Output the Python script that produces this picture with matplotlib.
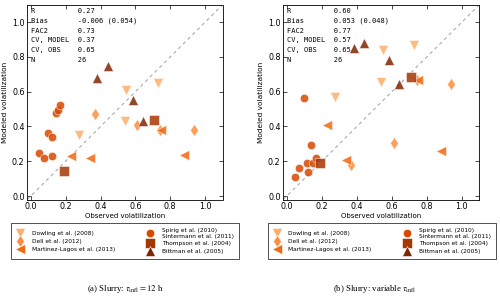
import matplotlib
matplotlib.use("Agg")
import matplotlib.pyplot as plt

studies = ["Dowling et al. (2008)", "Dell et al. (2012)", "Martinez-Lagos et al. (2013)",
           "Spirig et al. (2010)\nSintermann et al. (2011)", "Thompson et al. (2004)",
           "Bittman et al. (2005)"]
markers = ["v", "d", "<", "o", "s", "^"]
colors = ["#fdae6b", "#fd8d3c", "#f16913", "#d94801", "#a63603", "#7f2704"]

# Panel (a)
obs_a = {
    "Dowling et al. (2008)": [0.279, 0.547, 0.539, 0.728],
    "Dell et al. (2012)": [0.369, 0.608, 0.742, 0.939],
    "Martinez-Lagos et al. (2013)": [0.228, 0.340, 0.748, 0.878],
    "Spirig et al. (2010)\nSintermann et al. (2011)": [0.048, 0.073, 0.098, 0.120, 0.124, 0.145, 0.155, 0.170],
    "Thompson et al. (2004)": [0.191, 0.709],
    "Bittman et al. (2005)": [0.382, 0.442, 0.587, 0.642],
}
mod_a = {
    "Dowling et al. (2008)": [0.352, 0.607, 0.429, 0.648],
    "Dell et al. (2012)": [0.471, 0.410, 0.377, 0.379],
    "Martinez-Lagos et al. (2013)": [0.228, 0.218, 0.377, 0.238],
    "Spirig et al. (2010)\nSintermann et al. (2011)": [0.247, 0.220, 0.364, 0.228, 0.337, 0.479, 0.492, 0.523],
    "Thompson et al. (2004)": [0.144, 0.439],
    "Bittman et al. (2005)": [0.678, 0.747, 0.554, 0.431],
}
# Panel (b)
obs_b = {
    "Dowling et al. (2008)": [0.276, 0.537, 0.551, 0.727],
    "Dell et al. (2012)": [0.369, 0.610, 0.743, 0.940],
    "Martinez-Lagos et al. (2013)": [0.228, 0.340, 0.749, 0.883],
    "Spirig et al. (2010)\nSintermann et al. (2011)": [0.046, 0.071, 0.096, 0.115, 0.121, 0.140, 0.152, 0.167],
    "Thompson et al. (2004)": [0.188, 0.708],
    "Bittman et al. (2005)": [0.382, 0.440, 0.585, 0.639],
}
mod_b = {
    "Dowling et al. (2008)": [0.567, 0.655, 0.837, 0.868],
    "Dell et al. (2012)": [0.178, 0.305, 0.665, 0.642],
    "Martinez-Lagos et al. (2013)": [0.410, 0.205, 0.665, 0.261],
    "Spirig et al. (2010)\nSintermann et al. (2011)": [0.107, 0.163, 0.563, 0.190, 0.136, 0.291, 0.190, 0.218],
    "Thompson et al. (2004)": [0.190, 0.686],
    "Bittman et al. (2005)": [0.849, 0.879, 0.784, 0.646],
}

stats_labels = ["R", "Bias", "FAC2", "CV, MODEL", "CV, OBS", "N"]
stats_a = ["0.27", "-0.006 (0.054)", "0.73", "0.37", "0.65", "26"]
stats_b = ["0.60", "0.053 (0.048)", "0.77", "0.57", "0.65", "26"]

captions = [r"(a) Slurry: $\tau_{\mathrm{infl}} = 12$ h",
            r"(b) Slurry: variable $\tau_{\mathrm{infl}}$"]

plt.rcParams["mathtext.fontset"] = "stix"

fig = plt.figure(figsize=(5.0, 2.98), dpi=100)
axes_pos = [[0.0546, 0.3305, 0.3904, 0.6535], [0.5667, 0.3305, 0.3920, 0.6535]]
leg_box = [(0.022, 0.128, 0.456, 0.127), (0.535, 0.128, 0.456, 0.127)]
cap_x = [0.25, 0.75]

for i, (obs, mod, stats) in enumerate([(obs_a, mod_a, stats_a), (obs_b, mod_b, stats_b)]):
    ax = fig.add_axes(axes_pos[i])
    ax.plot([-0.02, 1.1], [-0.02, 1.1], ls=(0, (3, 3)), color="#aaaaaa", lw=0.8, zorder=1)
    handles = []
    for s, m, c in zip(studies, markers, colors):
        h, = ax.plot(obs[s], mod[s], ls="none", marker=m, color=c, markersize=6.5 if m != "o" else 6,
                     markeredgecolor="white", markeredgewidth=0.4, alpha=0.85, label=s, zorder=3)
        handles.append(h)
    ax.set_xlim(-0.02, 1.1)
    ax.set_ylim(-0.02, 1.1)
    ticks = [0.0, 0.2, 0.4, 0.6, 0.8, 1.0]
    ax.set_xticks(ticks)
    ax.set_yticks(ticks)
    ax.tick_params(direction="in", top=True, right=True, labelsize=5.8, length=3, width=0.5, pad=2)
    for sp in ax.spines.values():
        sp.set_linewidth(0.6)
    ax.set_xlabel("Observed volatilization", fontsize=5.0, labelpad=1.5)
    ax.set_ylabel("Modeled volatilization", fontsize=5.3, labelpad=3)
    txt = "\n".join(f"{l:<10s} {v}" for l, v in zip(stats_labels, stats))
    ax.text(0.02, 0.985, txt, transform=ax.transAxes, va="top", ha="left",
            family="DejaVu Sans Mono", fontsize=5.0, linespacing=1.75)
    leg = fig.legend(handles=handles, loc="center", bbox_to_anchor=leg_box[i], mode="expand",
                     ncol=2, fontsize=4.2, frameon=True, fancybox=False, numpoints=1,
                     handletextpad=1.3, labelspacing=0.45, borderpad=0.8, handlelength=1.5,
                     borderaxespad=0)
    leg.get_frame().set_edgecolor("black")
    leg.get_frame().set_linewidth(0.6)
    for lh in leg.legend_handles:
        lh.set_alpha(1.0)
    fig.text(cap_x[i], 0.03, captions[i], ha="center", va="center", fontsize=6.3,
             family="Liberation Serif")

fig.savefig("out.png", dpi=100)
